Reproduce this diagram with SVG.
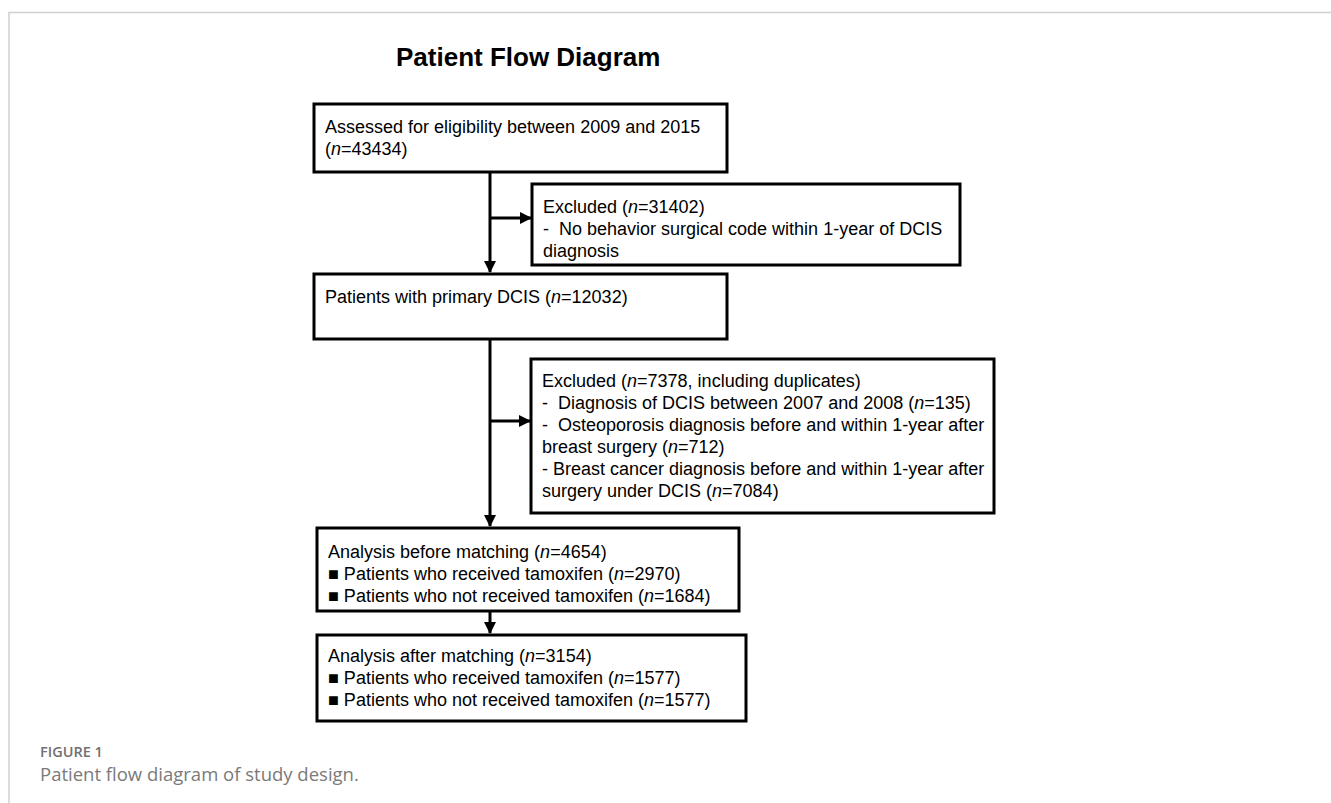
<svg xmlns="http://www.w3.org/2000/svg" width="1331" height="803" viewBox="0 0 1331 803">
<style>
.box{fill:#fff;stroke:#000;stroke-width:3}
.t{font-family:"Liberation Sans",Arial,sans-serif;font-size:18px;fill:#000;white-space:pre}
.conn{stroke:#000;stroke-width:3;fill:none}
.frame{stroke:#cfcfcf;stroke-width:1.5;fill:none}
</style>
<defs>
<marker id="ah" markerUnits="userSpaceOnUse" markerWidth="12" markerHeight="12" viewBox="0 0 12 12" refX="11" refY="6" orient="auto">
<path d="M0,0 L12,6 L0,12 Z" fill="#000"/>
</marker>
</defs>
<rect width="1331" height="803" fill="#fff"/>
<path class="frame" d="M9,803 V12.5 H1331"/>
<text x="396" y="66" font-family="'Liberation Sans',Arial,sans-serif" font-size="26" font-weight="bold" fill="#000">Patient Flow Diagram</text>

<g id="connectors">
<line class="conn" x1="490" y1="172" x2="490" y2="272" marker-end="url(#ah)"/>
<line class="conn" x1="490" y1="218" x2="531" y2="218" marker-end="url(#ah)"/>
<line class="conn" x1="490" y1="339" x2="490" y2="526" marker-end="url(#ah)"/>
<line class="conn" x1="490" y1="421" x2="530" y2="421" marker-end="url(#ah)"/>
<line class="conn" x1="490" y1="611" x2="490" y2="633" marker-end="url(#ah)"/>
</g>

<g id="assessed">
<rect class="box" x="314" y="104" width="413" height="68"/>
<text class="t" x="325" y="133">Assessed for eligibility between 2009 and 2015</text>
<text class="t" x="325" y="155">(<tspan font-style="italic">n</tspan>=43434)</text>
</g>

<g id="excluded1">
<rect class="box" x="532" y="184" width="428" height="81"/>
<text class="t" x="543" y="213">Excluded (<tspan font-style="italic">n</tspan>=31402)</text>
<text class="t" x="543" y="235">-  No behavior surgical code within 1-year of DCIS</text>
<text class="t" x="543" y="257">diagnosis</text>
</g>

<g id="primary">
<rect class="box" x="314" y="274" width="413" height="65"/>
<text class="t" x="325" y="303">Patients with primary DCIS (<tspan font-style="italic">n</tspan>=12032)</text>
</g>

<g id="excluded2">
<rect class="box" x="531" y="359" width="463" height="154"/>
<text class="t" x="542" y="387">Excluded (<tspan font-style="italic">n</tspan>=7378, including duplicates)</text>
<text class="t" x="542" y="409">-  Diagnosis of DCIS between 2007 and 2008 (<tspan font-style="italic">n</tspan>=135)</text>
<text class="t" x="542" y="431">-  Osteoporosis diagnosis before and within 1-year after</text>
<text class="t" x="542" y="453">breast surgery (<tspan font-style="italic">n</tspan>=712)</text>
<text class="t" x="542" y="475">- Breast cancer diagnosis before and within 1-year after</text>
<text class="t" x="542" y="497">surgery under DCIS (<tspan font-style="italic">n</tspan>=7084)</text>
</g>

<g id="before">
<rect class="box" x="317" y="528" width="422" height="83"/>
<text class="t" x="328" y="558">Analysis before matching (<tspan font-style="italic">n</tspan>=4654)</text>
<text class="t" x="328" y="580">■ Patients who received tamoxifen (<tspan font-style="italic">n</tspan>=2970)</text>
<text class="t" x="328" y="602">■ Patients who not received tamoxifen (<tspan font-style="italic">n</tspan>=1684)</text>
</g>

<g id="after">
<rect class="box" x="317" y="635" width="429" height="86"/>
<text class="t" x="328" y="662">Analysis after matching (<tspan font-style="italic">n</tspan>=3154)</text>
<text class="t" x="328" y="684">■ Patients who received tamoxifen (<tspan font-style="italic">n</tspan>=1577)</text>
<text class="t" x="328" y="706">■ Patients who not received tamoxifen (<tspan font-style="italic">n</tspan>=1577)</text>
</g>

<text x="40" y="757" font-family="'Open Sans','Noto Sans',sans-serif" font-size="14.5" font-weight="600" fill="#707070">FIGURE 1</text>
<text x="40" y="781" font-family="'Open Sans','Noto Sans',sans-serif" font-size="18.5" fill="#7a7a7a">Patient flow diagram of study design.</text>
</svg>
